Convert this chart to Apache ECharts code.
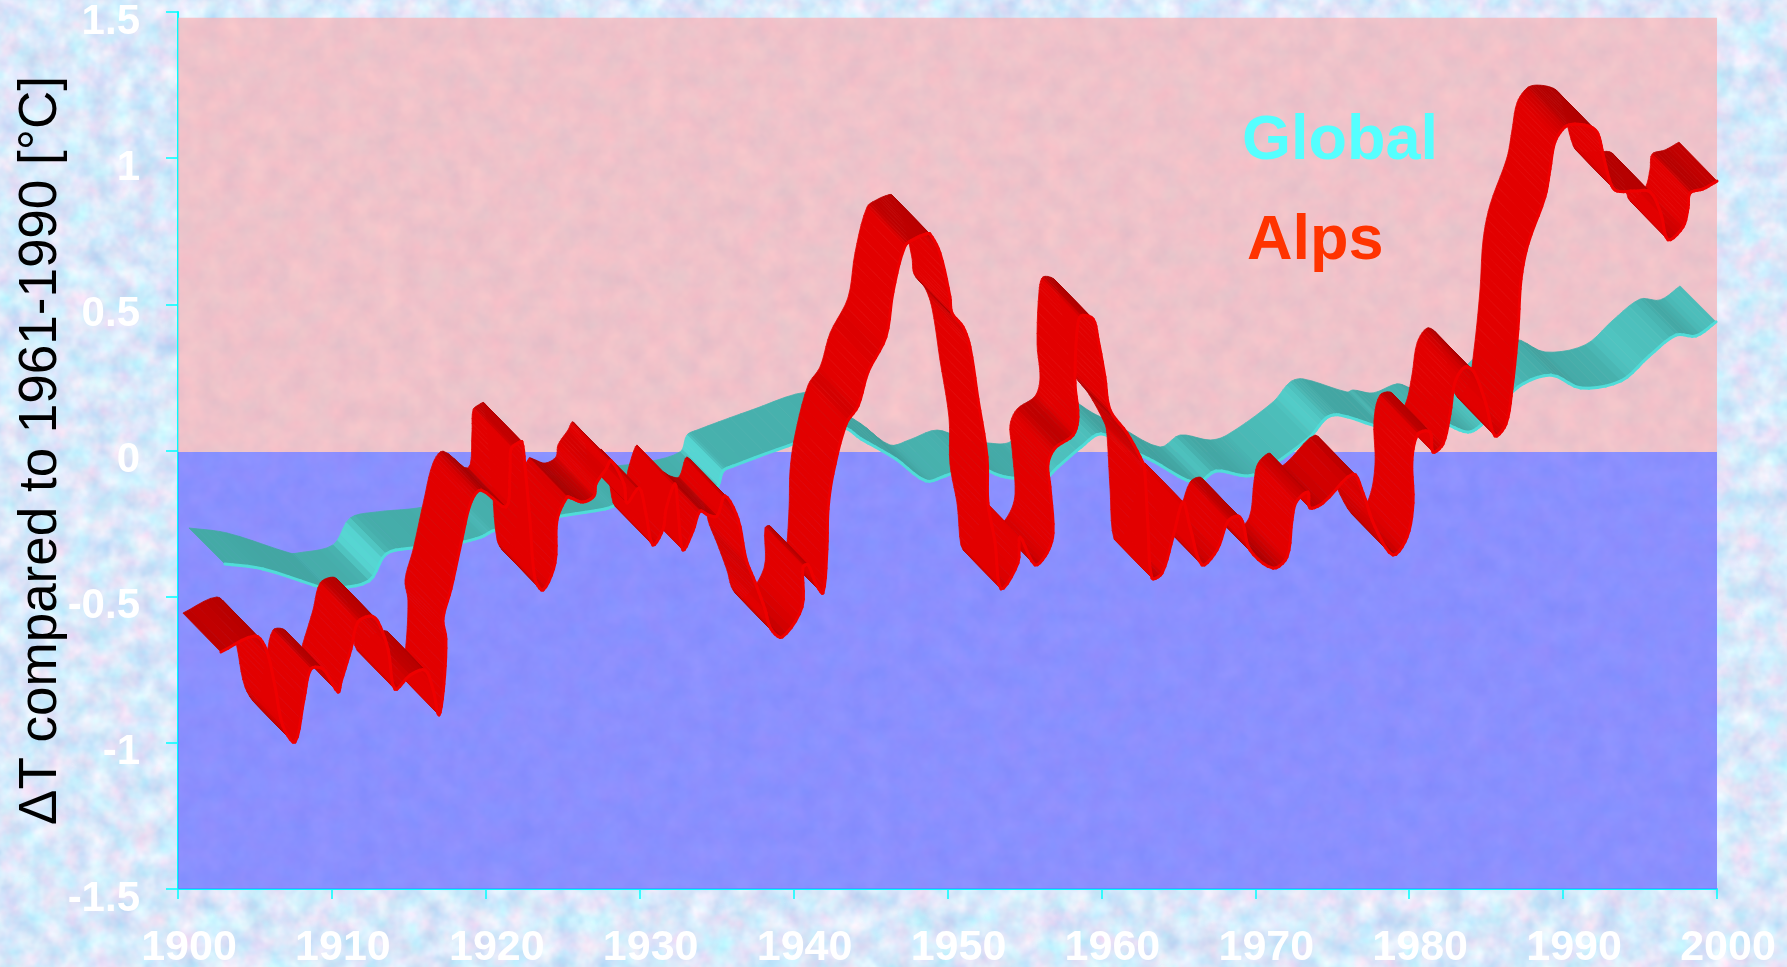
<!DOCTYPE html>
<html>
<head>
<meta charset="utf-8">
<title>Temperature anomaly, Alps and Global</title>
<script src="https://cdn.jsdelivr.net/npm/echarts@6/dist/echarts.min.js"></script>
<style>
  html, body { margin: 0; padding: 0; width: 100%; height: 100%; overflow: hidden; background: #d7e8fa; }
  #paper { position: absolute; left: 0; top: 0; }
  #chart { position: absolute; left: 0; top: 0; width: 1787px; height: 967px; }
</style>
</head>
<body>
<svg id="paper" width="1787" height="967" xmlns="http://www.w3.org/2000/svg">
  <filter id="mottle" x="0" y="0" width="100%" height="100%" color-interpolation-filters="sRGB">
    <feTurbulence type="fractalNoise" baseFrequency="0.045" numOctaves="3" seed="7"/>
    <feColorMatrix type="matrix" values="0.34 0.06 0 0 0.65  0.04 0.2 0 0 0.79  0 0.08 0.04 0 0.92  0 0 0 0 1"/>
  </filter>
  <rect width="1787" height="967" filter="url(#mottle)"/>
</svg>
<div id="chart"></div>
<script>
// Annual-mean temperature departure from the 1961-1990 average, read along each ribbon's rear edge.
const alpsYears = [1900.32,1902.53,1903.25,1903.83,1904.35,1905.13,1905.72,1906.17,1906.95,1907.93,1908.12,1908.77,1909.23,1910.07,1910.53,1911.18,1911.63,1912.61,1913.58,1914.10,1914.49,1914.81,1914.94,1914.75,1915.27,1915.98,1916.57,1917.22,1918.84,1919.10,1919.17,1919.62,1919.88,1920.08,1920.40,1920.73,1921.25,1922.03,1922.16,1922.81,1923.07,1923.85,1924.56,1924.69,1925.34,1925.67,1926.51,1926.71,1927.49,1927.94,1928.39,1929.05,1929.24,1929.82,1930.02,1930.34,1930.99,1931.45,1931.97,1932.55,1933.07,1933.92,1934.44,1935.02,1935.67,1936.06,1936.78,1938.08,1938.14,1938.47,1938.99,1939.44,1939.70,1939.77,1940.09,1940.94,1941.72,1942.37,1943.53,1943.99,1944.77,1945.48,1946.13,1946.39,1947.04,1947.69,1947.82,1948.54,1948.99,1949.51,1950.10,1950.16,1950.62,1951.01,1952.11,1952.24,1953.22,1954.00,1954.39,1954.19,1954.06,1954.52,1955.69,1956.01,1955.82,1955.95,1956.21,1956.99,1957.31,1957.76,1958.09,1959.19,1960.23,1960.36,1960.56,1960.82,1961.47,1962.18,1962.83,1963.29,1964.07,1965.04,1965.76,1966.41,1966.73,1967.19,1968.68,1969.59,1969.92,1970.18,1970.95,1971.08,1971.93,1973.88,1974.53,1975.31,1976.48,1977.39,1977.78,1977.71,1978.10,1978.88,1979.08,1979.73,1980.18,1980.51,1981.16,1981.74,1982.52,1983.11,1983.82,1984.21,1984.60,1984.80,1985.25,1986.35,1986.68,1987.00,1987.65,1988.30,1989.34,1989.80,1990.12,1990.64,1991.03,1992.14,1993.18,1993.89,1994.35,1995.32,1995.65,1995.78,1996.62,1997.53];
const alpsValues = [-0.556,-0.501,-0.546,-0.672,-0.809,-0.864,-0.717,-0.614,-0.614,-0.693,-0.659,-0.546,-0.453,-0.433,-0.453,-0.546,-0.683,-0.635,-0.618,-0.683,-0.771,-0.665,-0.511,-0.443,-0.340,-0.169,-0.043,-0.002,-0.060,0.060,0.139,0.159,0.163,0.077,-0.104,-0.306,-0.344,-0.251,-0.104,-0.026,-0.029,-0.043,-0.022,0.019,0.070,0.098,0.019,-0.046,0.005,-0.084,-0.190,-0.135,-0.067,0.019,-0.070,-0.207,-0.142,-0.074,-0.087,-0.091,-0.022,-0.101,-0.238,-0.316,-0.409,-0.477,-0.505,-0.402,-0.265,-0.258,-0.323,-0.354,-0.204,-0.067,0.053,0.224,0.286,0.402,0.522,0.676,0.833,0.860,0.874,0.874,0.809,0.659,0.604,0.556,0.488,0.310,0.111,-0.046,-0.180,-0.340,-0.251,-0.163,-0.258,-0.217,-0.149,0.009,0.087,0.142,0.186,0.248,0.364,0.546,0.594,0.583,0.515,0.385,0.272,0.193,0.091,0.056,-0.128,-0.303,-0.286,-0.163,-0.043,-0.128,-0.258,-0.207,-0.108,-0.091,-0.115,-0.207,-0.269,-0.231,-0.104,-0.043,-0.009,-0.063,-0.046,0.053,-0.012,-0.128,-0.224,-0.163,-0.046,0.101,0.190,0.197,0.128,0.156,0.258,0.368,0.419,0.402,0.293,0.183,0.224,0.344,0.549,0.720,0.840,1.001,1.096,1.189,1.240,1.250,1.240,1.216,1.148,1.045,1.021,1.021,1.018,0.943,0.854,0.898,0.963,1.014,1.028,1.055];
const globalYears = [1900.71,1903.18,1907.28,1907.73,1910.07,1911.18,1912.93,1915.53,1917.35,1918.26,1922.22,1925.41,1926.25,1930.02,1932.62,1933.07,1933.72,1937.30,1940.87,1942.04,1944.31,1946.26,1947.50,1949.32,1951.14,1952.57,1953.93,1954.84,1956.34,1957.63,1959.45,1961.01,1963.81,1965.11,1967.06,1968.16,1971.15,1972.26,1973.10,1975.96,1976.35,1977.65,1979.21,1980.05,1981.48,1982.33,1984.73,1986.87,1988.82,1991.42,1993.24,1995.00,1996.30,1997.60];
const globalValues = [-0.265,-0.282,-0.351,-0.351,-0.323,-0.231,-0.210,-0.197,-0.173,-0.149,-0.104,-0.077,-0.063,-0.043,-0.005,0.053,0.070,0.139,0.200,0.163,0.094,0.019,0.036,0.070,0.036,0.026,0.026,0.067,0.135,0.180,0.128,0.087,0.012,0.053,0.036,0.053,0.166,0.234,0.245,0.200,0.207,0.197,0.228,0.214,0.186,0.210,0.340,0.381,0.337,0.361,0.446,0.518,0.515,0.563];

const xRange = [1900, 2000];
const yRange = [-1.5, 1.5];
const warmBand = [1.48, -0.005];
const coldBand = [-0.005, -1.5];

const sansFont = '"Liberation Sans", Arial, sans-serif';
const axisCyan = '#00ffff';

// Brightness of a ribbon face against the screen direction of its run, in degrees.
const shadeStops = [[-90,1],[-65,1],[-45,0.91],[-25,0.83],[0,0.8],[30,0.76],[45,0.73],[60,0.88],[75,1],[90,1]];
function shadeFor(deg) {
  const a = Math.max(-90, Math.min(90, deg));
  for (let k = 1; k < shadeStops.length; k++) {
    if (a <= shadeStops[k][0]) {
      const [a0, s0] = shadeStops[k - 1], [a1, s1] = shadeStops[k];
      return s0 + (s1 - s0) * (a - a0) / (a1 - a0);
    }
  }
  return 1;
}
const tint = (rgb, f) => `rgb(${rgb.map(c => Math.round(c * f)).join(',')})`;

// Tangent at q between neighbours p and r, weighted by chord length so tight folds stay crisp.
function tangent(p, q, r, toNext) {
  const a = Math.hypot(q[0] - p[0], q[1] - p[1]) || 1;
  const b = Math.hypot(r[0] - q[0], r[1] - q[1]) || 1;
  const w = (toNext ? b : a) / (a + b);
  return [(r[0] - p[0]) * w, (r[1] - p[1]) * w];
}

// Builds the renderer of an extruded ribbon; each item paints the run towards the next reading.
function ribbonRenderer(years, values, depth, rgb, rimColor, rimWidth) {
  return function (params, api) {
    const i = api.value(2);
    if (i >= years.length - 1) return { type: 'group', children: [] };
    const at = k => {
      const n = Math.max(0, Math.min(years.length - 1, k));
      return api.coord([years[n], values[n]]);
    };
    const p0 = at(i - 1), p1 = at(i), p2 = at(i + 1), p3 = at(i + 2);
    const m1 = tangent(p0, p1, p2, true), m2 = tangent(p1, p2, p3, false);
    const steps = 5, trail = [];
    for (let s = 0; s <= steps; s++) {
      const t = s / steps, t2 = t * t, t3 = t2 * t;
      const h00 = 2 * t3 - 3 * t2 + 1, h10 = t3 - 2 * t2 + t, h01 = -2 * t3 + 3 * t2, h11 = t3 - t2;
      trail.push([
        h00 * p1[0] + h10 * m1[0] + h01 * p2[0] + h11 * m2[0],
        h00 * p1[1] + h10 * m1[1] + h01 * p2[1] + h11 * m2[1]
      ]);
    }
    const children = [];
    for (let s = steps - 1; s >= 0; s--) {
      const a = trail[s], b = trail[s + 1];
      const deg = Math.atan2(b[1] - a[1], b[0] - a[0]) * 180 / Math.PI;
      const fill = tint(rgb, shadeFor(deg));
      const fa = [a[0] + depth[0], a[1] + depth[1]], fb = [b[0] + depth[0], b[1] + depth[1]];
      children.push({
        type: 'polygon',
        shape: { points: [a, b, fb, fa] },
        style: { fill, stroke: fill, lineWidth: 0.8 }
      });
      children.push({
        type: 'polyline',
        shape: { points: [fa, fb] },
        style: { fill: 'none', stroke: rimColor, lineWidth: rimWidth, lineCap: 'round' }
      });
    }
    return { type: 'group', children };
  };
}

// Nearer ribbon parts sit to the left, so readings are handed over right to left.
const backToFront = (years, values) =>
  years.map((y, k) => [y, values[k], k]).reverse();

const chart = echarts.init(document.getElementById('chart'), null, { renderer: 'canvas' });
chart.setOption({
  backgroundColor: 'transparent',
  animation: false,
  grid: { left: 178, right: 70, top: 12, bottom: 78, outerBoundsMode: 'none' },
  xAxis: {
    type: 'value', min: xRange[0], max: xRange[1], interval: 10,
    splitLine: { show: false },
    axisLine: { show: true, onZero: false, lineStyle: { color: axisCyan, width: 2 } },
    axisTick: { show: true, length: 10, lineStyle: { color: axisCyan, width: 1.5 } },
    axisLabel: {
      color: '#ffffff', fontFamily: sansFont, fontWeight: 'bold', fontSize: 43,
      margin: 38, padding: [0, 0, 0, 22], hideOverlap: false, showMinLabel: true, showMaxLabel: true,
      formatter: v => String(v)
    }
  },
  yAxis: {
    type: 'value', min: yRange[0], max: yRange[1], interval: 0.5,
    splitLine: { show: false },
    axisLine: { show: true, onZero: false, lineStyle: { color: axisCyan, width: 2 } },
    axisTick: { show: true, length: 12, lineStyle: { color: axisCyan, width: 1.5 } },
    axisLabel: {
      color: '#ffffff', fontFamily: sansFont, fontWeight: 'bold', fontSize: 42,
      margin: 38, verticalAlign: 'top', lineHeight: 20, hideOverlap: false, showMinLabel: true, showMaxLabel: true
    },
    name: '\u0394T compared to 1961-1990 [\u00b0C]',
    nameLocation: 'middle', nameRotate: 90, nameGap: 110, nameMoveOverlap: false,
    nameTextStyle: { color: '#000000', fontFamily: sansFont, fontSize: 53 }
  },
  graphic: [
    { type: 'text', left: 1242, top: 110, z: 20, silent: true,
      style: { text: 'Global', fill: '#55ffff', font: `bold 63px ${sansFont}` } },
    { type: 'text', left: 1247, top: 210, z: 20, silent: true,
      style: { text: 'Alps', fill: '#ff3300', font: `bold 63px ${sansFont}` } }
  ],
  series: [
    {
      type: 'line', data: [], silent: true, z: 1,
      markArea: {
        silent: true,
        data: [
          [{ coord: [xRange[0], warmBand[0]], itemStyle: { color: 'rgba(248,178,181,0.7)' } }, { coord: [xRange[1], warmBand[1]] }],
          [{ coord: [xRange[0], coldBand[0]], itemStyle: { color: 'rgba(112,113,255,0.75)' } }, { coord: [xRange[1], coldBand[1]] }]
        ]
      }
    },
    {
      type: 'custom', name: 'Global', z: 2, clip: false, silent: true,
      renderItem: ribbonRenderer(globalYears, globalValues, [36, 36], [86, 214, 210], '#50dcd8', 3),
      encode: { x: 0, y: 1 },
      data: backToFront(globalYears, globalValues)
    },
    {
      type: 'custom', name: 'Alps', z: 3, clip: false, silent: true,
      renderItem: ribbonRenderer(alpsYears, alpsValues, [38, 39], [226, 0, 0], '#ee0000', 3),
      encode: { x: 0, y: 1 },
      data: backToFront(alpsYears, alpsValues)
    }
  ]
});
</script>
</body>
</html>
